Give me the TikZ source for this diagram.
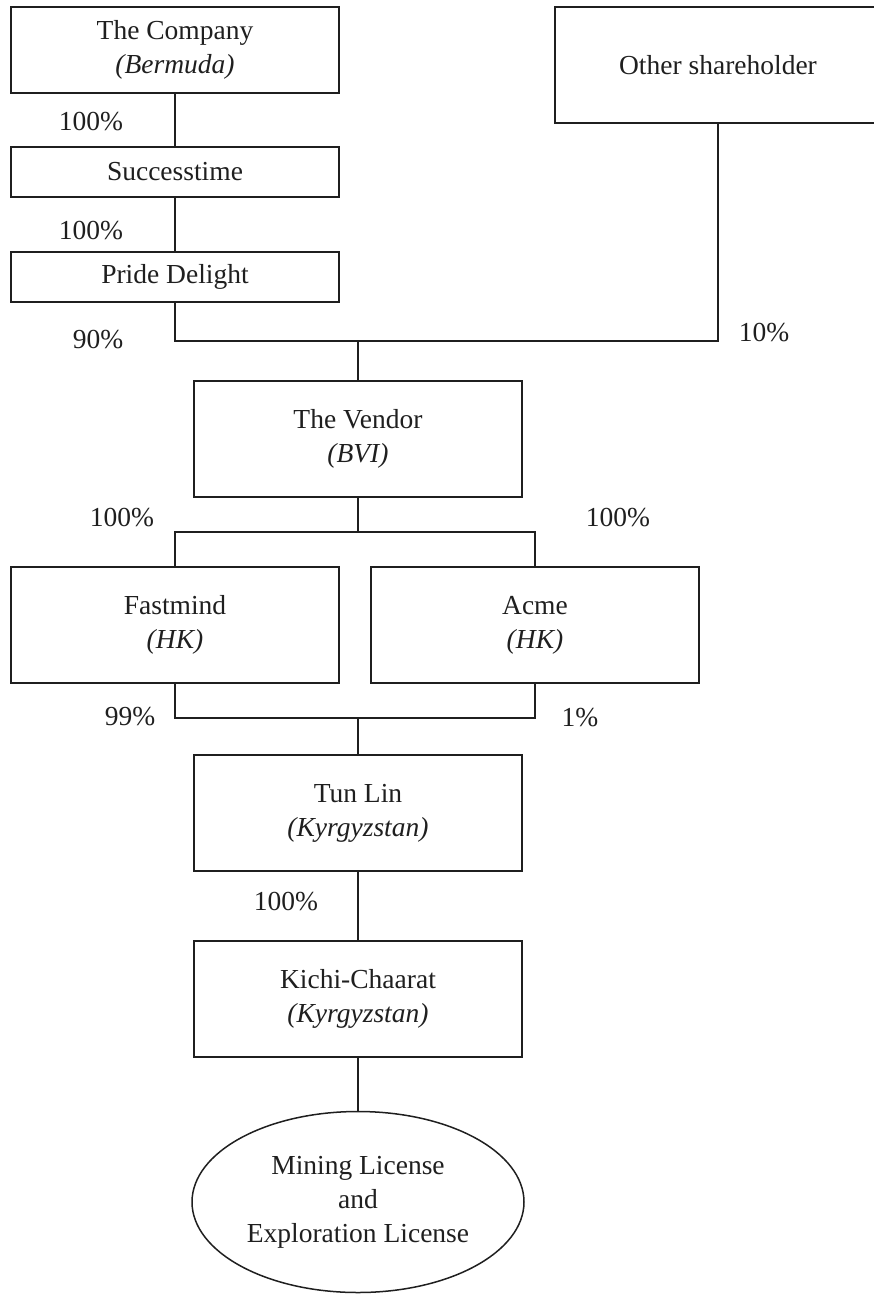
\documentclass[tikz,border=0pt]{standalone}
\usepackage{fontspec}
\setmainfont{Liberation Serif}
\usetikzlibrary{shapes.geometric}
\begin{document}
\begin{tikzpicture}[x=1pt,y=-1pt,
  every node/.style={font=\fontsize{27.5}{34}\selectfont, text=black!88},
  ent/.style={draw=black!88, line width=1.5pt, rectangle, inner sep=0pt, align=center, minimum width=328pt},
  lic/.style={draw=black!88, line width=1.5pt, ellipse, inner sep=0pt, align=center, minimum width=332pt, minimum height=181pt},
  pct/.style={inner sep=0pt, anchor=center},
  link/.style={draw=black!88, line width=1.5pt}]
\useasboundingbox (0,0) rectangle (874,1294);
\node[ent, minimum height=86pt] (comp) at (175,50) {The Company\\\textit{(Bermuda)}};
\node[ent, minimum height=50pt] (succ) at (175,172) {Successtime};
\node[ent, minimum height=50pt] (pride) at (175,277) {Pride Delight};
\node[ent, minimum width=326pt, minimum height=116pt] (other) at (718,65) {Other shareholder};
\node[ent, minimum height=116pt] (vendor) at (358,439) {The Vendor\\\textit{(BVI)}};
\node[ent, minimum height=116pt] (fast) at (175,625) {Fastmind\\\textit{(HK)}};
\node[ent, minimum height=116pt] (acme) at (535,625) {Acme\\\textit{(HK)}};
\node[ent, minimum height=116pt] (tun) at (358,813) {Tun Lin\\\textit{(Kyrgyzstan)}};
\node[ent, minimum height=116pt] (kichi) at (358,999) {Kichi-Chaarat\\\textit{(Kyrgyzstan)}};
\node[lic] (lic) at (358,1202) {Mining License\\and\\Exploration License};

\coordinate (j1) at (358,341);
\coordinate (j2) at (358,532);
\coordinate (j3) at (358,718);

\draw[link] (comp.south) -- (succ.north);
\draw[link] (succ.south) -- (pride.north);
\draw[link] (pride.south) |- (j1) -| (other.south);
\draw[link] (j1) -- (vendor.north);
\draw[link] (vendor.south) -- (j2);
\draw[link] (fast.north) |- (j2) -| (acme.north);
\draw[link] (fast.south) |- (j3) -| (acme.south);
\draw[link] (j3) -- (tun.north);
\draw[link] (tun.south) -- (kichi.north);
\draw[link] (kichi.south) -- (lic.north);

\node[pct] (p1) at (91,122) {100\%};
\node[pct] (p2) at (91,231) {100\%};
\node[pct] (p3) at (98,340) {90\%};
\node[pct] (p4) at (764,333) {10\%};
\node[pct] (p5) at (122,518) {100\%};
\node[pct] (p6) at (618,518) {100\%};
\node[pct] (p7) at (130,717) {99\%};
\node[pct] (p8) at (580,718) {1\%};
\node[pct] (p9) at (286,902) {100\%};
\end{tikzpicture}
\end{document}
